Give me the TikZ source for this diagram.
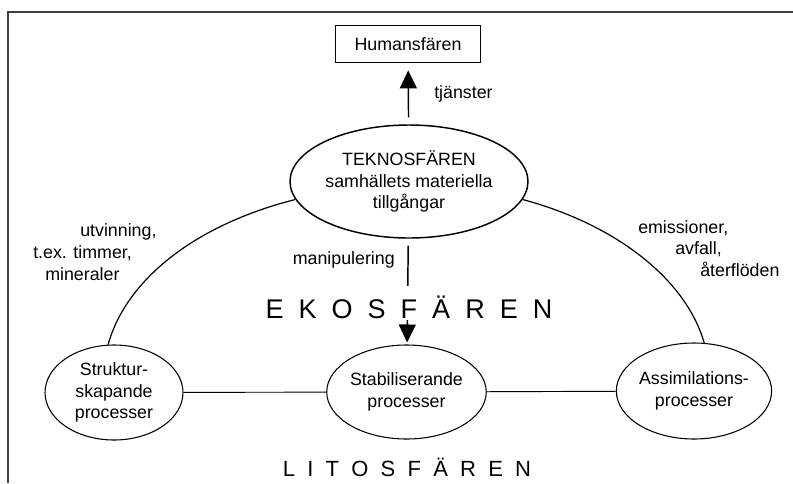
\documentclass[tikz,border=0pt]{standalone}
\usepackage{fontspec}
\setmainfont{Liberation Sans}
\usetikzlibrary{shapes.geometric,arrows.meta}
\begin{document}
\begin{tikzpicture}[x=0.75pt,y=0.75pt,
  font=\fontsize{13.35pt}{16.3pt}\selectfont,
  ell/.style={draw, ellipse, inner sep=0pt, align=center, line width=0.8pt},
  arr/.style={line width=1.1pt, -{Triangle[width=12.75pt,length=13.5pt]}},
  link/.style={line width=0.9pt},
  flat/.style={line width=0.7pt},
  lbl/.style={inner sep=0pt, align=left},
  big/.style={inner sep=0pt, anchor=base}]
\useasboundingbox (0,0) rectangle (793,-483);
\draw[line width=1.2pt, black!75] (793,-12) -- (8,-12) -- (8,-483);

\node[draw, rectangle, minimum width=108.75pt, minimum height=28.3pt, inner sep=0pt, line width=0.8pt] (human) at (408,-44) {Humansfären};
\node[ell, minimum width=178.5pt, minimum height=84.75pt, line width=1.1pt] (tekno) at (409,-181.5) {TEKNOSFÄREN\\samhällets materiella\\tillgångar};
\node[ell, minimum width=103.5pt, minimum height=71.25pt] (strukt) at (114,-392.5) {Struktur-\\skapande\\processer};
\node[ell, minimum width=104.25pt, minimum height=70.5pt] (stab) at (406.5,-392) {Stabiliserande\\processer};
\node[ell, minimum width=103.5pt, minimum height=72pt] (assim) at (694,-391) {Assimilations-\\processer};

\draw[link] (strukt.97) .. controls (126.3,-278.9) and (196.2,-224.5) .. (tekno.189);
\draw[link] (assim.78) .. controls (685.7,-278.9) and (615.8,-224.5) .. (tekno.-9);
\draw[flat] (strukt) -- (stab);
\draw[flat] (stab) -- (assim);

\draw[arr, shorten <=5.25pt, shorten >=5.25pt] (tekno) -- (human);
\draw[arr, shorten <=5.25pt, shorten >=1.5pt] (tekno) -- (stab);

\node[big, fill=white, text height=24pt, text depth=1.5pt, font=\fontsize{20.25pt}{24pt}\selectfont] (eko) at (409,-318)
  {E\hspace{.556em}K\hspace{.556em}O\hspace{.556em}S\hspace{.556em}F\hspace{.556em}Ä\hspace{.556em}R\hspace{.556em}E\hspace{.556em}N};
\node[big, font=\fontsize{16.5pt}{20pt}\selectfont] (lito) at (407,-476)
  {L\hspace{.556em}I\hspace{.556em}T\hspace{.556em}O\hspace{.556em}S\hspace{.556em}F\hspace{.556em}Ä\hspace{.556em}R\hspace{.556em}E\hspace{.556em}N};

\node[lbl, anchor=base west] (tj) at (434,-98) {tjänster};
\node[lbl, anchor=base east] (manip) at (395,-264) {manipulering};
\node[lbl, anchor=north west] (utv) at (33,-223.5) {\hspace*{35.25pt}utvinning,\\t.ex. timmer,\\\hspace*{9pt}mineraler};
\node[lbl, anchor=north west] (emis) at (638,-220) {emissioner,\\\hspace*{27.75pt}avfall,\\\hspace*{46.5pt}återflöden};
\end{tikzpicture}
\end{document}
